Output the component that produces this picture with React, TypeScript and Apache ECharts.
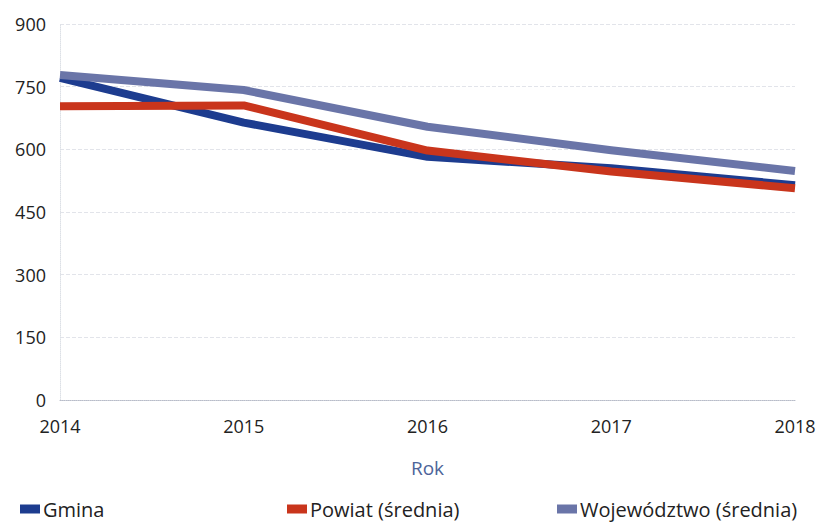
import React, { useEffect, useRef } from "react";
import * as echarts from "echarts";

const years = ["2014", "2015", "2016", "2017", "2018"];
const gmina = [771, 664, 582, 555, 514];
const powiat = [703, 705, 597, 547, 507];
const wojewodztwo = [778, 742, 654, 598, 548];
const yTicks = { min: 0, max: 900, interval: 150 };

const FONT = "Open Sans";

export default function App() {
  const ref = useRef<HTMLDivElement>(null);
  useEffect(() => {
    const chart = echarts.init(ref.current!, null, { renderer: "svg" });
    const lineSeries = (name: string, data: number[], color: string) => ({
      name,
      type: "line",
      data,
      symbol: "none",
      lineStyle: { width: 8, color, join: "round", cap: "butt" },
      itemStyle: { color },
    });
    const legendBase = {
      bottom: 0,
      itemWidth: 20,
      itemHeight: 9,
      itemGap: 6,
      icon: "rect",
      textStyle: { fontFamily: FONT, fontSize: 20, color: "#222", padding: [0, 0, 0, -2] },
    };
    chart.setOption({
      animation: false,
      textStyle: { fontFamily: FONT },
      grid: { left: 60, right: 24, top: 24, bottom: 124 },
      legend: [
        { ...legendBase, left: 15, data: ["Gmina"] },
        { ...legendBase, left: 282, data: ["Powiat (średnia)"] },
        { ...legendBase, left: 552, data: ["Województwo (średnia)"] },
      ],
      xAxis: {
        type: "category",
        data: years,
        boundaryGap: false,
        name: "Rok",
        nameLocation: "middle",
        nameGap: 58,
        nameTextStyle: { fontFamily: FONT, fontSize: 19, color: "#4d6499" },
        axisLine: { show: true, lineStyle: { color: "#b8bcc8", type: "dotted", width: 1 } },
        axisTick: { show: false },
        axisLabel: { fontFamily: FONT, fontSize: 18, color: "#222", margin: 17 },
        splitLine: { show: false },
      },
      yAxis: {
        type: "value",
        min: yTicks.min,
        max: yTicks.max,
        interval: yTicks.interval,
        axisLine: { show: true, lineStyle: { color: "#dde0e6", type: "dotted", width: 1 } },
        axisTick: { show: false },
        axisLabel: { fontFamily: FONT, fontSize: 18, color: "#222", margin: 14 },
        splitLine: { show: true, lineStyle: { color: "#e2e4ea", type: "dashed", width: 1 } },
      },
      series: [
        lineSeries("Gmina", gmina, "#1d3c8f"),
        lineSeries("Powiat (średnia)", powiat, "#c9351c"),
        lineSeries("Województwo (średnia)", wojewodztwo, "#6a75a8"),
      ],
    });
    return () => chart.dispose();
  }, []);
  return (
    <div
      ref={ref}
      style={{ position: "fixed", left: 0, top: 0, width: 819, height: 524, background: "#fff" }}
    />
  );
}
